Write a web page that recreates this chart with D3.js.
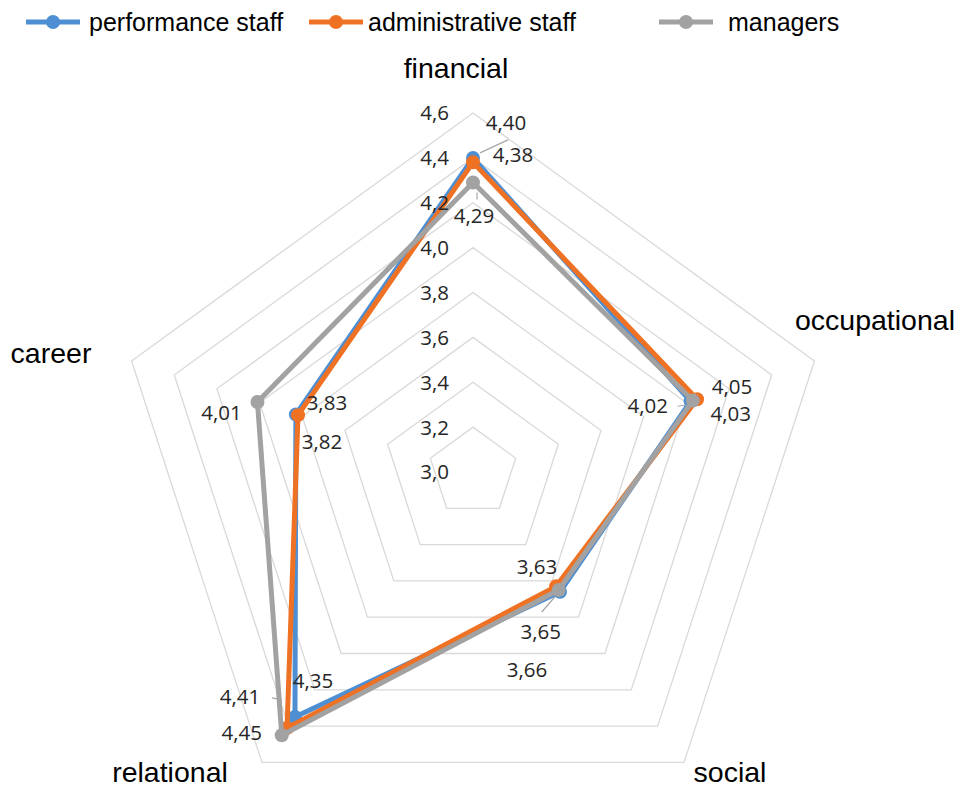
<!DOCTYPE html>
<html>
<head>
<meta charset="utf-8">
<script src="https://cdn.jsdelivr.net/npm/d3@7"></script>
<style>
  html, body { margin: 0; padding: 0; background: #fff; }
  svg { display: block; }
</style>
</head>
<body>
<svg id="chart" width="962" height="790"></svg>
<script>
// ---------- DATA ----------
const categories = ["financial", "occupational", "social", "relational", "career"];
const seriesNames = ["performance staff", "administrative staff", "managers"];
const performanceStaff = [4.40, 4.02, 3.66, 4.35, 3.83];
const administrativeStaff = [4.38, 4.05, 3.63, 4.41, 3.82];
const managers = [4.29, 4.03, 3.65, 4.45, 4.01];
const tickValues = [3.0, 3.2, 3.4, 3.6, 3.8, 4.0, 4.2, 4.4, 4.6];
const tickLabels = ["3,0", "3,2", "3,4", "3,6", "3,8", "4,0", "4,2", "4,4", "4,6"];

// ---------- LAYOUT / STYLE ----------
const colors = ["#4e8fd3", "#ef7123", "#a2a2a2"];
const cx = 473, cy = 472, R = 359;
// data-label offsets relative to each point [series][category]
const labelOffsets = [
  [[33, -35], [-43, 4], [-33, 78], [18, -36], [31, -12]],
  [[40, -8], [35, -13], [-19, -20], [-47, -31], [24, 26]],
  [[1, 33], [38, 13], [-18, 42], [-40, -3], [-36, 11]]
];
// leader lines relative to point: [series, category, x1, y1, x2, y2]
const leaders = [
  [0, 0, 7, -5, 35, -18],
  [0, 1, -13, 5, -5, 4],
  [1, 3, -15, -30, -5, -28],
  [2, 2, -17, 22, -4, 7],
  [2, 0, 4, 10, 4, 17]
];
// category label anchor (center x, baseline y)
const catLabelPos = [[456, 78], [875, 330], [730, 782], [170, 782], [51, 363]];
const legendX = [26, 309, 659];
const legendY = 22;

// ---------- DRAW ----------
const svg = d3.select("#chart");
const rScale = d3.scaleLinear().domain([3.0, 4.6]).range([0, R]);
const angle = d3.scaleLinear().domain([0, categories.length]).range([-Math.PI / 2, 1.5 * Math.PI]);
const pt = (i, v) => [cx + rScale(v) * Math.cos(angle(i)), cy + rScale(v) * Math.sin(angle(i))];

const g = svg.append("g");

// grid rings (skip center value)
tickValues.filter(t => t > 3.0).forEach(t => {
  const pts = categories.map((c, i) => pt(i, t));
  g.append("polygon")
    .attr("points", pts.map(p => p.join(",")).join(" "))
    .attr("fill", "none")
    .attr("stroke", "#d9d9d9")
    .attr("stroke-width", 1.3);
});

// category labels
g.selectAll("text.cat").data(categories).enter().append("text")
  .attr("class", "cat")
  .attr("x", (d, i) => catLabelPos[i][0])
  .attr("y", (d, i) => catLabelPos[i][1])
  .attr("text-anchor", "middle")
  .attr("font-family", "'Liberation Sans', Arial, sans-serif")
  .attr("font-size", 28.5)
  .attr("fill", "#000")
  .text(d => d);

const allSeries = [performanceStaff, administrativeStaff, managers];
const lineGen = d3.line().curve(d3.curveLinearClosed);

allSeries.forEach((vals, s) => {
  const pts = vals.map((v, i) => pt(i, v));
  g.append("path")
    .attr("d", lineGen(pts))
    .attr("fill", "none")
    .attr("stroke", colors[s])
    .attr("stroke-width", 5)
    .attr("stroke-linejoin", "round");
  g.selectAll(null).data(pts).enter().append("circle")
    .attr("cx", d => d[0]).attr("cy", d => d[1])
    .attr("r", 7)
    .attr("fill", colors[s]);
});

// tick labels along first axis (drawn above series)
g.selectAll("text.tick").data(tickValues).enter().append("text")
  .attr("class", "tick")
  .attr("x", cx - 24)
  .attr("y", d => pt(0, d)[1])
  .attr("dy", "0.36em")
  .attr("text-anchor", "end")
  .attr("font-family", "'Open Sans', 'Noto Sans', sans-serif")
  .attr("font-size", 20.5)
  .attr("fill", "#262626")
  .text((d, i) => tickLabels[i]);

// leader lines
leaders.forEach(([s, i, x1, y1, x2, y2]) => {
  const p = pt(i, allSeries[s][i]);
  g.append("line")
    .attr("x1", p[0] + x1).attr("y1", p[1] + y1)
    .attr("x2", p[0] + x2).attr("y2", p[1] + y2)
    .attr("stroke", "#a6a6a6").attr("stroke-width", 1.2);
});

// data labels
const fmt = v => v.toFixed(2).replace(".", ",");
allSeries.forEach((vals, s) => {
  vals.forEach((v, i) => {
    const p = pt(i, v);
    g.append("text")
      .attr("x", p[0] + labelOffsets[s][i][0])
      .attr("y", p[1] + labelOffsets[s][i][1])
      .attr("dy", "0.36em")
      .attr("text-anchor", "middle")
      .attr("font-family", "'Open Sans', 'Noto Sans', sans-serif")
      .attr("font-size", 20.5)
      .attr("fill", "#262626")
      .text(fmt(v));
  });
});

// legend
const leg = svg.append("g");
seriesNames.forEach((name, s) => {
  const x0 = legendX[s];
  leg.append("line")
    .attr("x1", x0).attr("x2", x0 + 54)
    .attr("y1", legendY).attr("y2", legendY)
    .attr("stroke", colors[s]).attr("stroke-width", 5);
  leg.append("circle")
    .attr("cx", x0 + 27).attr("cy", legendY).attr("r", 7)
    .attr("fill", colors[s]);
  leg.append("text")
    .attr("x", s === 2 ? x0 + 69 : x0 + (s === 0 ? 63 : 59))
    .attr("y", legendY)
    .attr("dy", "0.35em")
    .attr("font-family", "'Liberation Sans', Arial, sans-serif")
    .attr("font-size", 25)
    .attr("fill", "#000")
    .text(name);
});
</script>
</body>
</html>
